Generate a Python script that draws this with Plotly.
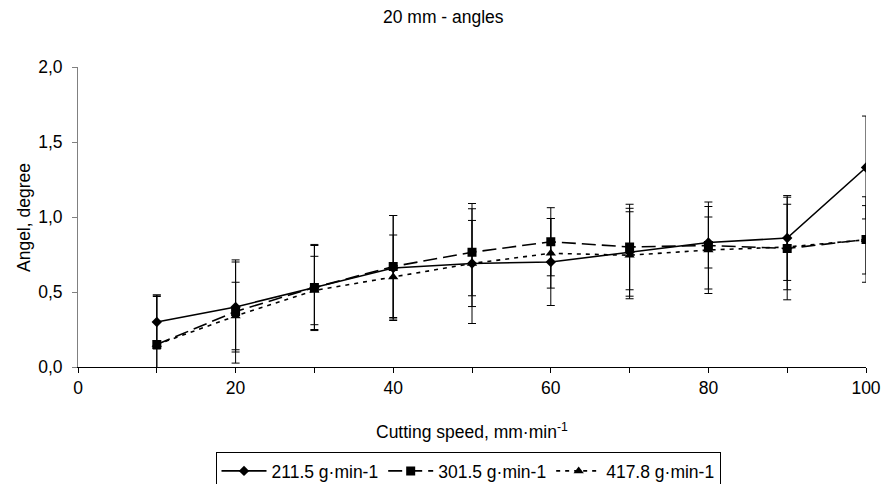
import plotly.graph_objects as go

speed = [10, 20, 30, 40, 50, 60, 70, 80, 90, 100]

s1_name = "211.5 g·min-1"
s1 = [0.30, 0.40, 0.53, 0.66, 0.69, 0.70, 0.765, 0.83, 0.86, 1.33]
e1 = [0.18, 0.30, 0.28, 0.35, 0.40, 0.29, 0.293, 0.17, 0.283, 0.343]

s2_name = "301.5 g·min-1"
s2 = [0.15, 0.37, 0.53, 0.67, 0.765, 0.835, 0.80, 0.81, 0.79, 0.85]
e2 = [0.33, 0.344, 0.287, 0.34, 0.29, 0.227, 0.285, 0.29, 0.342, 0.285]

s3_name = "417.8 g·min-1"
s3 = [0.15, 0.34, 0.51, 0.60, 0.69, 0.758, 0.745, 0.78, 0.80, 0.848]
e3 = [0.32, 0.225, 0.228, 0.28, 0.287, 0.232, 0.29, 0.29, 0.285, 0.228]

x_ticks = [0, 10, 20, 30, 40, 50, 60, 70, 80, 90, 100]
x_labels = ["0", "", "20", "", "40", "", "60", "", "80", "", "100"]
y_ticks = [0, 0.5, 1.0, 1.5, 2.0]
y_labels = ["0,0", "0,5", "1,0", "1,5", "2,0"]

FONT = "Liberation Sans, Arial, sans-serif"
FS = 17.5

W, H = 883, 484
PL, PR, PT, PB = 78, 17, 67, 117
PW, PH = W - PL - PR, H - PT - PB


def px(x):
    return (x - PL) / PW


def py(y):
    return (H - PB - y) / PH


fig = go.Figure()


def add(y, e, name, symbol, dash, msize):
    fig.add_trace(go.Scatter(
        x=speed, y=y, name=name, mode="lines+markers",
        line=dict(color="black", width=1.6, dash=dash),
        marker=dict(symbol=symbol, size=msize, color="black"),
        error_y=dict(type="data", array=e, symmetric=True,
                     color="black", thickness=1, width=4),
    ))


add(s1, e1, s1_name, "diamond", "solid", 8)
add(s2, e2, s2_name, "square", "14px,6px", 9)
add(s3, e3, s3_name, "triangle-up", "4px,5px", 9)

fig.update_layout(
    width=W, height=H,
    margin=dict(l=PL, r=PR, t=PT, b=PB, autoexpand=False),
    paper_bgcolor="white", plot_bgcolor="white",
    font=dict(family=FONT, size=FS, color="black"),
    showlegend=True,
    legend=dict(orientation="h", x=px(468), xanchor="center", y=py(452), yanchor="top",
                bordercolor="black", borderwidth=1, font=dict(size=FS),
                itemwidth=45, tracegroupgap=0),
    xaxis=dict(range=[0, 100], tickvals=x_ticks, ticktext=x_labels, automargin=False,
               showgrid=False, zeroline=False, showline=True, linecolor="black",
               linewidth=1, ticks="outside", ticklen=5, tickcolor="black"),
    yaxis=dict(range=[0, 2.0], tickvals=y_ticks, ticktext=y_labels, automargin=False,
               showgrid=False, zeroline=False, showline=True, linecolor="#808080",
               linewidth=1, ticks="outside", ticklen=5, tickcolor="#808080",
               ticklabelstandoff=6),
    annotations=[
        dict(text="20 mm - angles", x=px(443), y=py(17), xref="paper", yref="paper",
             xanchor="center", yanchor="middle", showarrow=False, font=dict(size=FS)),
        dict(text="Cutting speed, mm·min<sup>-1</sup>", x=px(472), y=py(431),
             xref="paper", yref="paper", xanchor="center", yanchor="middle",
             showarrow=False, font=dict(size=FS)),
        dict(text="Angel, degree", x=px(24), y=py(218), xref="paper", yref="paper",
             xanchor="center", yanchor="middle", showarrow=False, textangle=-90,
             font=dict(size=FS)),
    ],
)

fig.write_html("out.html", config={"displayModeBar": False})

# remove the default 8px page margin so the figure sits at the window origin
with open("out.html", "r", encoding="utf-8") as f:
    html = f.read()
html = html.replace("<body>", '<body style="margin:0;padding:0;overflow:hidden">', 1)
with open("out.html", "w", encoding="utf-8") as f:
    f.write(html)
